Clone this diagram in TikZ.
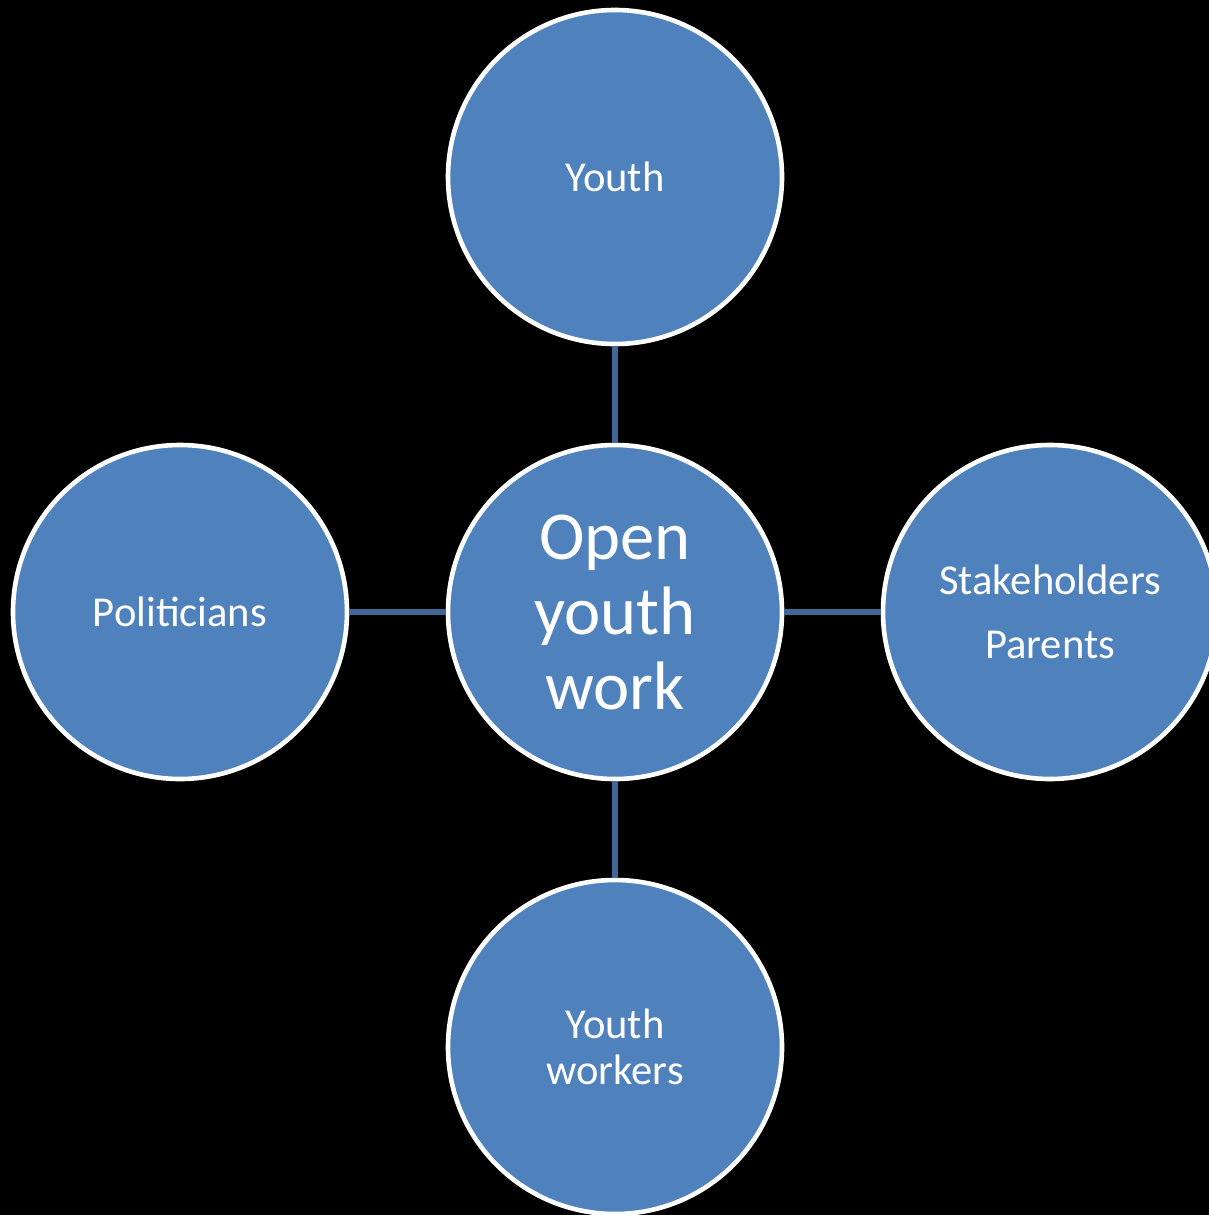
\documentclass[tikz,border=0pt]{standalone}
\usepackage{fontspec}
\setmainfont{Carlito}
\definecolor{hubblue}{HTML}{4F81BD}
\definecolor{linkblue}{HTML}{3F6898}
\begin{document}
\begin{tikzpicture}[x=0.5pt,y=-0.5pt,
  hub/.style={circle, draw=white, line width=2.3pt, fill=hubblue,
    minimum size=167pt, inner sep=0pt, text=white, align=center,
    font=\fontsize{21.3}{23}\selectfont},
  core/.style={hub, font=\fontsize{34.3}{37.5}\selectfont},
  link/.style={draw=linkblue, line width=2.6pt}]
  \fill[black] (0,0) rectangle (1209,1215);
  \useasboundingbox (0,0) rectangle (1209,1215);
  \clip (0,0) rectangle (1209,1215);
  \node[core] (center) at (615,612) {Open\\youth\\work};
  \node[hub] (top) at (615,177) {Youth};
  \node[hub] (left) at (180,612) {Politicians};
  \node[hub] (right) at (1050,612) {Stakeholders\\[9pt]Parents};
  \node[hub] (bottom) at (615,1047) {Youth\\workers};
  \draw[link] (center) -- (top);
  \draw[link] (center) -- (left);
  \draw[link] (center) -- (right);
  \draw[link] (center) -- (bottom);
\end{tikzpicture}
\end{document}
